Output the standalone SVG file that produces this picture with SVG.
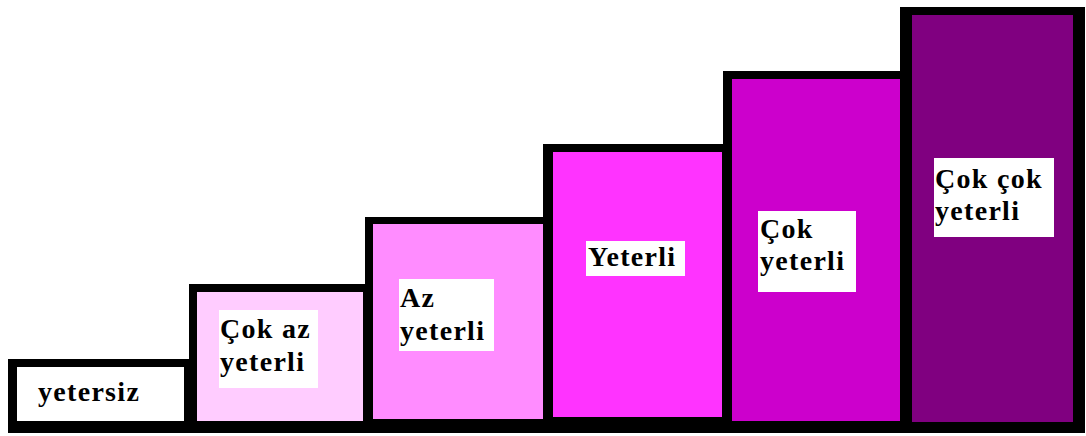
<svg xmlns="http://www.w3.org/2000/svg" width="1086" height="436" viewBox="0 0 1086 436">
<style>
.frame{fill:#000}
.lbl{fill:#fff}
.t{font-family:"Liberation Serif","Times New Roman",serif;font-weight:bold;font-size:28px;letter-spacing:1.3px;fill:#000}
</style>
<rect width="1086" height="436" fill="#fff"/>
<g id="connectors"></g>
<g id="bar-yetersiz">
<rect class="frame" x="8" y="359" width="186" height="74"/>
<rect x="17" y="367" width="167" height="54" fill="#ffffff"/>
<text class="t" x="38" y="401">yetersiz</text>
</g>
<g id="bar-cok-az-yeterli">
<rect class="frame" x="189" y="284" width="184" height="149"/>
<rect x="197" y="292" width="166" height="129" fill="#ffccff"/>
<rect class="lbl" x="219" y="310" width="99" height="78"/>
<text class="t" x="220" y="338">Çok az</text>
<text class="t" x="220" y="371">yeterli</text>
</g>
<g id="bar-az-yeterli">
<rect class="frame" x="365" y="217" width="188" height="216"/>
<rect x="373" y="224" width="170" height="195" fill="#ff8cff"/>
<rect class="lbl" x="399" y="279" width="95" height="72"/>
<text class="t" x="400" y="307">Az</text>
<text class="t" x="400" y="340">yeterli</text>
</g>
<g id="bar-yeterli">
<rect class="frame" x="543" y="144" width="189" height="289"/>
<rect x="553" y="152" width="169" height="265" fill="#ff33ff"/>
<rect class="lbl" x="586" y="241" width="99" height="35"/>
<text class="t" x="588" y="266">Yeterli</text>
</g>
<g id="bar-cok-yeterli">
<rect class="frame" x="723" y="71" width="189" height="362"/>
<rect x="732" y="79" width="168" height="342" fill="#cc00cc"/>
<rect class="lbl" x="758" y="211" width="98" height="81"/>
<text class="t" x="760" y="238">Çok</text>
<text class="t" x="760" y="270">yeterli</text>
</g>
<g id="bar-cok-cok-yeterli">
<rect class="frame" x="900" y="7" width="185" height="426"/>
<rect x="912" y="15" width="161" height="407" fill="#800080"/>
<rect class="lbl" x="934" y="158" width="120" height="79"/>
<text class="t" x="935" y="188">Çok çok</text>
<text class="t" x="935" y="220">yeterli</text>
</g>
</svg>
